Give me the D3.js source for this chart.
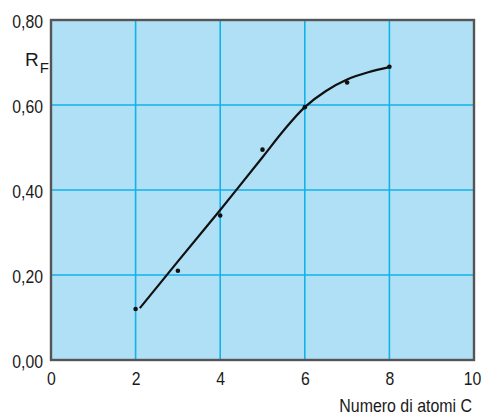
<!DOCTYPE html>
<html>
<head>
<meta charset="utf-8">
<script src="https://cdn.jsdelivr.net/npm/d3@7"></script>
<style>
  body { margin: 0; background: #fff; }
  text { font-family: "Liberation Sans", Arial, sans-serif; fill: #1a1a1a; }
</style>
</head>
<body>
<svg id="chart" width="485" height="420"></svg>
<script>
// measured points (numero di atomi C, RF)
const atoms = [2, 3, 4, 5, 6, 7, 8];
const rfValues = [0.12, 0.21, 0.34, 0.495, 0.595, 0.653, 0.69];

// hand-drawn trend curve
const curveX = [2.1, 3, 4, 5, 5.5, 6, 6.5, 7, 7.5, 8];
const curveY = [0.122, 0.232, 0.353, 0.477, 0.54, 0.595, 0.633, 0.66, 0.677, 0.689];

const xTicks = [0, 2, 4, 6, 8, 10];
const yTicks = [0, 0.2, 0.4, 0.6, 0.8];

const svg = d3.select('#chart');

const x = d3.scaleLinear().domain([0, 10]).range([51, 474]);
const y = d3.scaleLinear().domain([0, 0.8]).range([360, 20]);

// squeeze text horizontally, the original uses a condensed face
function narrow(sel, k) {
  sel.each(function () {
    const w = this.getComputedTextLength();
    d3.select(this)
      .attr('textLength', w * k)
      .attr('lengthAdjust', 'spacingAndGlyphs');
  });
}

// plot background
svg.append('rect')
  .attr('x', x(0)).attr('y', y(0.8))
  .attr('width', x(10) - x(0)).attr('height', y(0) - y(0.8))
  .attr('fill', '#afe0f6');

// grid
const grid = svg.append('g')
  .attr('stroke', '#12b2ea')
  .attr('stroke-width', 1.6);

grid.selectAll('line.v')
  .data(xTicks.slice(1, -1))
  .join('line')
  .attr('x1', d => x(d)).attr('x2', d => x(d))
  .attr('y1', y(0)).attr('y2', y(0.8));

grid.selectAll('line.h')
  .data(yTicks.slice(1, -1))
  .join('line')
  .attr('y1', d => y(d)).attr('y2', d => y(d))
  .attr('x1', x(0)).attr('x2', x(10));

// frame
svg.append('rect')
  .attr('x', x(0)).attr('y', y(0.8))
  .attr('width', x(10) - x(0)).attr('height', y(0) - y(0.8))
  .attr('fill', 'none')
  .attr('stroke', '#555')
  .attr('stroke-width', 2.4);

const fmt = d => d3.format('.2f')(d).replace('.', ',');

const yAxis = svg.append('g')
  .attr('transform', `translate(${x(0)},0)`)
  .call(d3.axisLeft(y).tickValues(yTicks).tickFormat(fmt).tickSize(0).tickPadding(8));
yAxis.select('.domain').remove();
yAxis.selectAll('text')
  .attr('font-size', 19)
  .attr('dy', '0.37em')
  .attr('font-family', null)
  .call(narrow, 0.83);

const xAxis = svg.append('g')
  .attr('transform', `translate(0,${y(0)})`)
  .call(d3.axisBottom(x).tickValues(xTicks).tickFormat(d3.format('d')).tickSize(0).tickPadding(12));
xAxis.select('.domain').remove();
xAxis.selectAll('text')
  .attr('font-size', 19)
  .attr('font-family', null)
  .call(narrow, 0.83);
// last label sits just inside the edge
xAxis.selectAll('text').filter(d => d === 10).attr('dx', -2);

// curve
const line = d3.line()
  .x(d => x(d[0]))
  .y(d => y(d[1]))
  .curve(d3.curveCatmullRom.alpha(0.5));

svg.append('path')
  .datum(curveX.map((d, i) => [d, curveY[i]]))
  .attr('d', line)
  .attr('fill', 'none')
  .attr('stroke', '#111')
  .attr('stroke-width', 2.2);

// points
svg.selectAll('circle.pt')
  .data(atoms.map((d, i) => [d, rfValues[i]]))
  .join('circle')
  .attr('cx', d => x(d[0]))
  .attr('cy', d => y(d[1]))
  .attr('r', 2.3)
  .attr('fill', '#111');

// RF label
const rf = svg.append('text')
  .attr('x', 25).attr('y', 66)
  .attr('font-size', 19);
rf.append('tspan').text('R');
rf.append('tspan').attr('font-size', 15).attr('dy', 7).attr('dx', 1).text('F');

// x title, squeezed with a transform so its box stays on the page
svg.append('text')
  .attr('transform', 'translate(472,412) scale(0.885,1)')
  .attr('text-anchor', 'end')
  .attr('font-size', 18)
  .text('Numero di atomi C');
</script>
</body>
</html>
